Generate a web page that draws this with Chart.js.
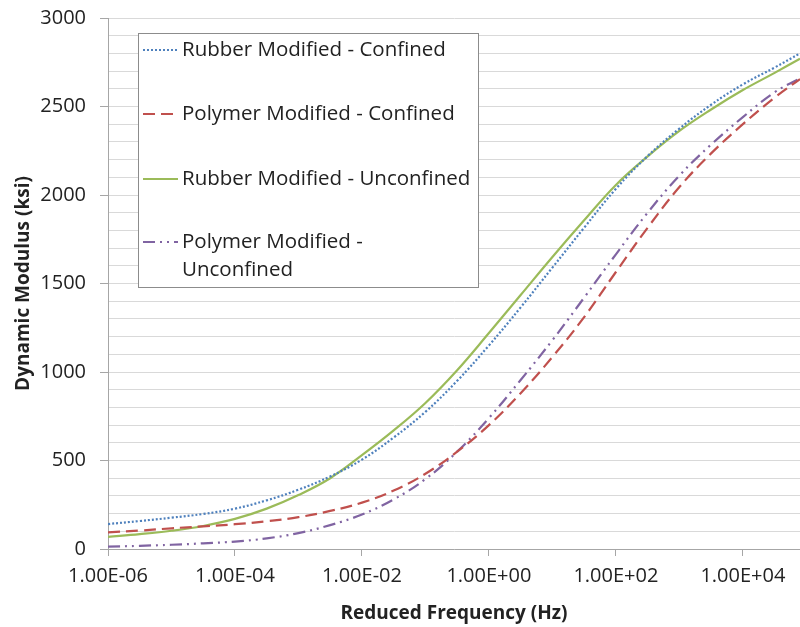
<!DOCTYPE html>
<html>
<head>
<meta charset="utf-8">
<script src="https://cdn.jsdelivr.net/npm/chart.js@4/dist/chart.umd.min.js"></script>
<style>
  html, body { margin: 0; padding: 0; background: #fff; }
  #wrap { width: 800px; height: 627px; }
</style>
</head>
<body>
<div id="wrap"><canvas id="chart"></canvas></div>
<script>
// reduced frequency (Hz), half-decade steps
const FREQ = [
  1e-6, 3.16e-6, 1e-5, 3.16e-5, 1e-4, 3.16e-4, 1e-3, 3.16e-3, 1e-2, 3.16e-2,
  1e-1, 3.16e-1, 1, 3.16, 10, 31.6, 100, 316, 1000, 3160, 10000, 31600, 79400,
];

const RUBBER_CONFINED = [
  141, 158, 177, 198, 228, 275, 335, 410, 505, 630,
  775, 950, 1150, 1365, 1590, 1815, 2035, 2220, 2375, 2510, 2625, 2720, 2800,
];
const POLYMER_CONFINED = [
  94, 104, 117, 128, 140, 157, 180, 215, 262, 330,
  425, 550, 700, 880, 1085, 1310, 1565, 1815, 2045, 2235, 2400, 2550, 2655,
];
const RUBBER_UNCONFINED = [
  69, 84, 103, 130, 170, 228, 305, 400, 530, 670,
  825, 1010, 1220, 1435, 1650, 1857, 2057, 2218, 2362, 2483, 2593, 2690, 2770,
];
const POLYMER_UNCONFINED = [
  13, 18, 24, 32, 42, 60, 90, 135, 195, 280,
  395, 550, 740, 955, 1180, 1420, 1665, 1900, 2110, 2285, 2440, 2580, 2660,
];

const X_TICKS = [1e-6, 1e-4, 1e-2, 1, 1e2, 1e4];
const X_MAX = 79400;
const Y_MAX = 3000;

const FONT = "'Open Sans', 'Liberation Sans', sans-serif";

const toPoints = (ys) => ys.map((y, i) => ({ x: FREQ[i], y }));

// "1.00E-06" style, like Excel
const sci = (v) => {
  const exp = Math.round(Math.log10(v));
  const sign = exp < 0 ? "-" : "+";
  return "1.00E" + sign + String(Math.abs(exp)).padStart(2, "0");
};

const series = [
  { label: "Rubber Modified - Confined", data: RUBBER_CONFINED, color: "#4f81bd", dash: [2, 2] },
  { label: "Polymer Modified - Confined", data: POLYMER_CONFINED, color: "#c0504d", dash: [12, 6] },
  { label: "Rubber Modified - Unconfined", data: RUBBER_UNCONFINED, color: "#9bbb59", dash: [] },
  { label: "Polymer Modified - Unconfined", data: POLYMER_UNCONFINED, color: "#8064a2", dash: [12, 5, 2, 5, 2, 5] },
];

// legend box drawn inside the plot, Excel style
const legendBox = {
  id: "legendBox",
  afterDraw(chart) {
    const { ctx, chartArea } = chart;
    const left = chartArea.left + 30;
    const top = chartArea.top + 15;
    const w = 340;
    const h = 254;
    ctx.save();
    ctx.fillStyle = "#ffffff";
    ctx.fillRect(left, top, w, h);
    ctx.strokeStyle = "#8c8c8c";
    ctx.lineWidth = 1;
    ctx.strokeRect(left + 0.5, top + 0.5, w, h);

    const rows = [
      { lines: ["Rubber Modified - Confined"], y: 17 },
      { lines: ["Polymer Modified - Confined"], y: 81 },
      { lines: ["Rubber Modified - Unconfined"], y: 146 },
      { lines: ["Polymer Modified -", "Unconfined"], y: 209 },
    ];
    ctx.font = "20.5px " + FONT;
    ctx.textBaseline = "middle";
    rows.forEach((row, i) => {
      const s = series[i];
      const y = top + row.y;
      ctx.strokeStyle = s.color;
      ctx.lineWidth = 2;
      ctx.setLineDash(s.dash);
      ctx.beginPath();
      ctx.moveTo(left + 5, y);
      ctx.lineTo(left + 40, y);
      ctx.stroke();
      ctx.setLineDash([]);
      ctx.fillStyle = "#222";
      row.lines.forEach((t, j) => ctx.fillText(t, left + 44, y + j * 28));
    });
    ctx.restore();
  },
};

const ctx = document.getElementById("chart").getContext("2d");
new Chart(ctx, {
  type: "line",
  data: {
    datasets: series.map((s) => ({
      label: s.label,
      data: toPoints(s.data),
      borderColor: s.color,
      backgroundColor: s.color,
      borderWidth: 2.2,
      borderDash: s.dash,
      pointRadius: 0,
      tension: 0.4,
      fill: false,
    })),
  },
  options: {
    responsive: true,
    maintainAspectRatio: false,
    animation: false,
    layout: { padding: { top: 18, right: 0, left: 0, bottom: 0 } },
    plugins: {
      legend: { display: false },
      tooltip: { enabled: false },
    },
    scales: {
      x: {
        type: "logarithmic",
        min: 1e-6,
        max: X_MAX,
        afterBuildTicks: (scale) => {
          scale.ticks = X_TICKS.map((v) => ({ value: v }));
        },
        afterFit: (scale) => {
          scale.height = 78;
          scale.paddingRight = 0;
        },
        ticks: {
          callback: (v) => sci(v),
          color: "#222",
          font: { family: FONT, size: 20 },
          padding: 8,
          maxRotation: 0,
          autoSkip: false,
        },
        grid: {
          drawOnChartArea: false,
          tickLength: 7,
          tickColor: "#a6a6a6",
        },
        border: { color: "#a6a6a6" },
        title: {
          display: true,
          text: "Reduced Frequency (Hz)",
          color: "#222",
          font: { family: FONT, size: 19, weight: "bold" },
          padding: { top: 0, bottom: 2 },
        },
      },
      y: {
        min: 0,
        max: Y_MAX,
        afterFit: (scale) => {
          scale.width = 108;
          scale.paddingTop = 0;
          scale.paddingBottom = 0;
        },
        ticks: {
          stepSize: 100,
          autoSkip: false,
          callback: (v) => (v % 500 === 0 ? String(v) : ""),
          color: "#222",
          font: { family: FONT, size: 20 },
          padding: 14,
        },
        grid: {
          color: "#d9d9d9",
          lineWidth: 1,
          tickLength: 8,
          tickColor: (c) => (c.tick && c.tick.value % 500 === 0 ? "#a6a6a6" : "rgba(0,0,0,0)"),
        },
        border: { color: "#a6a6a6" },
        title: {
          display: true,
          text: "Dynamic Modulus (ksi)",
          color: "#222",
          font: { family: FONT, size: 19, weight: "bold" },
          padding: { top: 12, bottom: 0 },
        },
      },
    },
  },
  plugins: [legendBox],
});
</script>
</body>
</html>
